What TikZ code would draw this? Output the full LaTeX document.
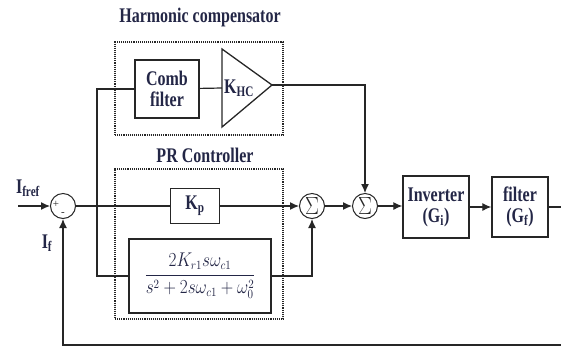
\documentclass[tikz,border=0pt]{standalone}
\usepackage{fontspec}
\setmainfont{Liberation Serif}
\usetikzlibrary{arrows.meta}
\definecolor{inkblue}{RGB}{35,38,70}
\newcommand{\tallt}[1]{\scalebox{1}[1.3]{#1}}

\begin{document}
\begin{tikzpicture}[x=1pt,y=-1pt,line width=1.2pt,color=black!85,
    >={Latex[length=9pt,width=8pt]},
    blk/.style={draw,line width=1.3pt,align=center,inner sep=0pt,text=inkblue,
      font=\fontsize{16}{21}\selectfont\bfseries},
    sumc/.style={draw,circle,minimum size=25pt,inner sep=0pt,line width=1pt,
      font=\fontsize{20}{22}\selectfont},
    dotbox/.style={draw,densely dotted,line width=1.1pt,inner sep=0pt},
    lbl/.style={text=inkblue,font=\fontsize{16}{18}\selectfont\bfseries},
    sgn/.style={inner sep=0pt,font=\fontsize{11}{12}\selectfont}]
  \useasboundingbox (0,0) rectangle (561,349);

  % harmonic compensator
  \node[lbl] (hctitle) at (200,17) {\tallt{Harmonic compensator}};
  \node[dotbox,minimum width=168pt,minimum height=93pt] (hcbox) at (199,88.5) {};
  \node[blk,minimum width=64pt,minimum height=58pt] (comb) at (167,89) {\tallt{Comb}\\\tallt{filter}};
  \draw[line width=1.3pt] (222,49) -- (272,85) -- (222,127) -- cycle; % gain
  \node[lbl] (khc) at (239,88) {\tallt{K\textsubscript{HC}}};
  \coordinate (khcin) at (222,88);
  \coordinate (khcout) at (272,85);

  % PR controller
  \node[lbl] (prtitle) at (205,155) {\tallt{PR Controller}};
  \node[dotbox,minimum width=168pt,minimum height=150pt] (prbox) at (199,244) {};
  \node[blk,minimum width=49pt,minimum height=35pt] (kp) at (195,206) {\tallt{K\textsubscript{p}}};
  \node[blk,minimum width=142pt,minimum height=74pt,font=\fontsize{16}{18}\selectfont]
    (pr) at (200,276) {\scalebox{1}[1.15]{$\displaystyle\frac{2K_{r1}s\omega_{c1}}{s^2+2s\omega_{c1}+\omega_0^2}$}};

  % summing points and plant
  \node[sumc] (sin) at (63,206) {};
  \node[sgn] (plus) at (56,204) {+};
  \node[sgn] (minus) at (63,214) {-};
  \node[sumc] (s1) at (312,206) {\scalebox{1}[1.2]{$\Sigma$}};
  \node[sumc] (s2) at (365,206) {\scalebox{1}[1.2]{$\Sigma$}};
  \node[blk,minimum width=66pt,minimum height=62pt] (inv) at (436,207) {\tallt{Inverter}\\\tallt{(G\textsubscript{i})}};
  \node[blk,minimum width=56pt,minimum height=60pt] (filt) at (520,207) {\tallt{filter}\\\tallt{(G\textsubscript{f})}};

  \node[lbl] (iref) at (28,188) {\tallt{I\textsubscript{fref}}};
  \node[lbl] (ifb) at (47,243) {\tallt{I\textsubscript{f}}};

  \coordinate (in) at (18,206);
  \coordinate (br) at (97,206);
  \coordinate (out) at (561,207);
  \coordinate (fb) at (561,345);

  % connectors
  \draw[->] (in) -- (sin);
  \draw (sin) -- (kp);
  \draw[->] (kp) -- (s1);
  \draw (br) |- (comb);
  \draw (comb) -- (khcin);
  \draw (br) |- (pr);
  \draw[->] (pr) -| (s1);
  \draw[->] (khcout) -| (s2);
  \draw[->] (s1) -- (s2);
  \draw[->] (s2) -- (s2 -| inv.west);
  \draw[->] (inv) -- (filt);
  \draw (filt) -- (out);
  \draw[->] (fb) -| (sin);
\end{tikzpicture}
\end{document}
